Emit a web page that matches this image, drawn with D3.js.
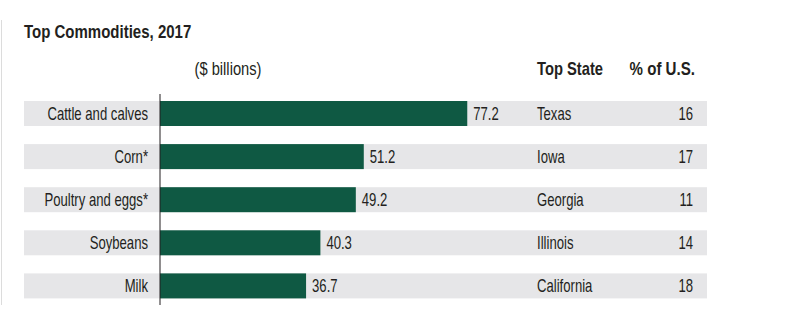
<!DOCTYPE html>
<meta charset="utf-8">
<style>
  body { margin: 0; background: #fff; }
  text { font-family: "Liberation Sans", Arial, sans-serif; fill: #231f20; }
</style>
<svg width="800" height="326"></svg>

<script src="https://d3js.org/d3.v7.min.js"></script>
<script>
var categories = ['Cattle and calves', 'Corn*', 'Poultry and eggs*', 'Soybeans', 'Milk'];
var values = [77.2, 51.2, 49.2, 40.3, 36.7];   // $ billions
var topStates = ['Texas', 'Iowa', 'Georgia', 'Illinois', 'California'];
var shares = [16, 17, 11, 14, 18];              // % of U.S.

var rows = categories.map((c, i) => ({
  name: c, value: values[i], state: topStates[i], share: shares[i]
}));

var svg = d3.select('svg');

var x = d3.scaleLinear().domain([0, 100]).range([160, 558]);
var y = d3.scaleBand().domain(categories).range([101, 298.4]).paddingInner(0.42);

// no condensed face installed, so squeeze a regular one horizontally
var SQUEEZE = 0.75;
function place(sel, px, py, sx) {
  return sel.attr('transform', d => {
    var a = typeof px === 'function' ? px(d) : px;
    var b = typeof py === 'function' ? py(d) : py;
    return 'translate(' + a + ',' + b + ') scale(' + (sx || SQUEEZE) + ',1)';
  });
}

// thin rule down the left edge
svg.append('line')
  .attr('x1', 1.5).attr('x2', 1.5).attr('y1', 20).attr('y2', 305)
  .attr('stroke', '#dcdcdc').attr('stroke-width', 1);

place(svg.append('text'), 24, 37.5, 0.79)
  .attr('font-size', 19).attr('font-weight', 'bold')
  .text('Top Commodities, 2017');

// column headers
place(svg.append('text'), 228, 75, 0.84)
  .attr('text-anchor', 'middle').attr('font-size', 17.5)
  .text('($ billions)');
place(svg.append('text'), 537, 75, 0.82)
  .attr('font-size', 18).attr('font-weight', 'bold').text('Top State');
place(svg.append('text'), 695, 75, 0.84)
  .attr('text-anchor', 'end')
  .attr('font-size', 18).attr('font-weight', 'bold').text('% of U.S.');

var row = svg.append('g').selectAll('g')
  .data(rows)
  .enter().append('g')
    .attr('transform', d => 'translate(0,' + y(d.name) + ')');

// grey band behind each row
row.append('rect')
  .attr('x', 24).attr('width', 707 - 24)
  .attr('height', y.bandwidth())
  .attr('fill', '#e6e6e8');

row.append('rect')
  .attr('x', x(0))
  .attr('width', d => x(d.value) - x(0))
  .attr('height', y.bandwidth())
  .attr('fill', '#0f5943');

var base = y.bandwidth() / 2 + 6.5;

place(row.append('text'), 148, base)
  .attr('text-anchor', 'end').attr('font-size', 17.5)
  .text(d => d.name);

place(row.append('text'), d => x(d.value) + 6, base)
  .attr('font-size', 17.5)
  .text(d => d3.format('.1f')(d.value));

place(row.append('text'), 537, base)
  .attr('font-size', 17.5)
  .text(d => d.state);

place(row.append('text'), 693, base)
  .attr('text-anchor', 'end').attr('font-size', 17.5)
  .text(d => d.share);

// zero axis line
svg.append('line')
  .attr('x1', x(0)).attr('x2', x(0)).attr('y1', 94).attr('y2', 305)
  .attr('stroke', '#231f20').attr('stroke-width', 1);
</script>
